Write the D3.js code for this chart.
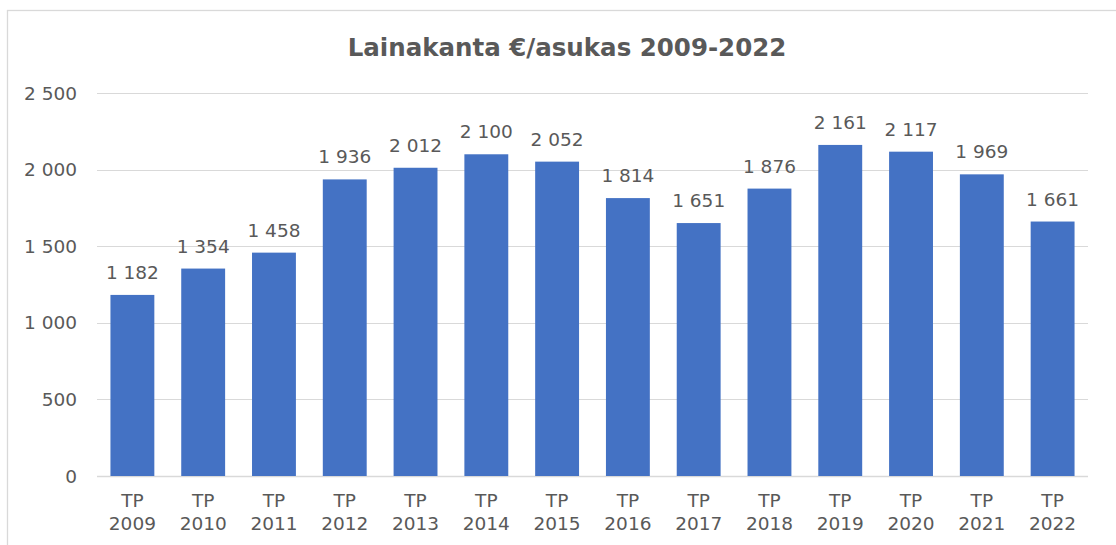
<!DOCTYPE html>
<html>
<head>
<meta charset="utf-8">
<script src="https://cdn.jsdelivr.net/npm/d3@7"></script>
<style>
  body { margin: 0; background: #fff; }
  text { font-family: "DejaVu Sans", Verdana, sans-serif; fill: #595959; }
</style>
</head>
<body>
<div id="chart"></div>
<script>
const years = ['2009','2010','2011','2012','2013','2014','2015','2016','2017','2018','2019','2020','2021','2022'];
const values = [1182, 1354, 1458, 1936, 2012, 2100, 2052, 1814, 1651, 1876, 2161, 2117, 1969, 1661];
const yTicks = [0, 500, 1000, 1500, 2000, 2500];
const title = 'Lainakanta €/asukas 2009-2022';

const svg = d3.select('#chart').append('svg')
  .attr('width', 1116)
  .attr('height', 545);

// chart frame (runs off right and bottom edge)
svg.append('rect')
  .attr('x', 7.5).attr('y', 10.5)
  .attr('width', 1130).attr('height', 560)
  .attr('fill', 'none')
  .attr('stroke', '#d9d9d9')
  .attr('stroke-width', 1.3);

const plotL = 97, plotR = 1088, plotT = 93, plotB = 476;

const fi = d3.formatLocale({ decimal: ',', thousands: '\u00a0', grouping: [3] });
const fmt = fi.format(',d');

const x = d3.scaleBand()
  .domain(years)
  .range([plotL, plotR])
  .paddingInner(0.38)
  .paddingOuter(0.19);

const y = d3.scaleLinear()
  .domain([0, 2500])
  .range([plotB, plotT]);

// gridlines
svg.append('g')
  .selectAll('line')
  .data(yTicks)
  .join('line')
  .attr('x1', plotL).attr('x2', plotR)
  .attr('y1', d => Math.round(y(d)) + 0.5)
  .attr('y2', d => Math.round(y(d)) + 0.5)
  .attr('stroke', '#d9d9d9')
  .attr('stroke-width', d => d === 0 ? 1.5 : 1);

// y labels
svg.append('g')
  .selectAll('text')
  .data(yTicks)
  .join('text')
  .attr('x', 77)
  .attr('y', d => y(d) + 6.5)
  .attr('text-anchor', 'end')
  .style('font-size', '18.5px')
  .text(d => fmt(d));

// bars
svg.append('g')
  .selectAll('rect')
  .data(values)
  .join('rect')
  .attr('x', (d, i) => x(years[i]))
  .attr('width', x.bandwidth())
  .attr('y', d => y(d))
  .attr('height', d => y(0) - y(d))
  .attr('fill', '#4472C4');

// value labels
svg.append('g')
  .selectAll('text')
  .data(values)
  .join('text')
  .attr('x', (d, i) => x(years[i]) + x.bandwidth() / 2)
  .attr('y', d => y(d) - 16)
  .attr('text-anchor', 'middle')
  .style('font-size', '18.5px')
  .text(d => fmt(d));

// x labels, two lines
const xl = svg.append('g')
  .selectAll('text')
  .data(years)
  .join('text')
  .attr('text-anchor', 'middle')
  .style('font-size', '18.5px');
xl.append('tspan')
  .attr('x', d => x(d) + x.bandwidth() / 2)
  .attr('y', 507)
  .text('TP');
xl.append('tspan')
  .attr('x', d => x(d) + x.bandwidth() / 2)
  .attr('y', 530)
  .text(d => d);

svg.append('text')
  .attr('x', 567)
  .attr('y', 56)
  .attr('text-anchor', 'middle')
  .style('font-size', '24.5px')
  .style('font-weight', 'bold')
  .text(title);
</script>
</body>
</html>
